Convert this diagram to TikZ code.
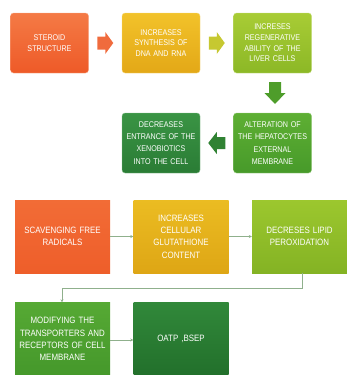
\documentclass[tikz,border=0pt]{standalone}
\usepackage{fontspec}
\setmainfont{Liberation Sans}[FakeStretch=0.86]
\usetikzlibrary{calc,arrows.meta}
\definecolor{orT}{HTML}{F47A45}\definecolor{orB}{HTML}{EE5A28}
\definecolor{goT}{HTML}{F2C22A}\definecolor{goB}{HTML}{E3A817}
\definecolor{liT}{HTML}{A8CC35}\definecolor{liB}{HTML}{8CB826}
\definecolor{grT}{HTML}{5EAF33}\definecolor{grB}{HTML}{479A2A}
\definecolor{dgT}{HTML}{3A9444}\definecolor{dgB}{HTML}{2A7C35}
\definecolor{or2T}{HTML}{F26C36}\definecolor{or2B}{HTML}{EE5E2A}
\definecolor{go2T}{HTML}{EBBC22}\definecolor{go2B}{HTML}{DEA615}
\definecolor{li2T}{HTML}{9CC72E}\definecolor{li2B}{HTML}{84B324}
\definecolor{gr2T}{HTML}{56A934}\definecolor{gr2B}{HTML}{45982B}
\definecolor{dg2T}{HTML}{31883A}\definecolor{dg2B}{HTML}{22702B}
\definecolor{conn}{HTML}{8FB08C}
\begin{document}
\begin{tikzpicture}[x=1pt,y=-1pt,
  topbox/.style={rectangle,rounded corners=3pt,minimum width=78pt,minimum height=60pt,
    text width=74pt,align=center,text=white,font=\fontsize{8.3}{10.6}\selectfont,inner sep=0pt},
  lowbox/.style={rectangle,minimum width=95pt,minimum height=73pt,
    text width=90pt,align=center,text=white,font=\fontsize{9.2}{12.4}\selectfont,inner sep=0pt},
  thin/.style={conn,line width=0.7pt,-{Stealth[length=3pt,width=3pt]}}]
\useasboundingbox (0,0) rectangle (347,375);
% top row
\node[topbox,top color=orT,bottom color=orB,draw=orT!60!white] (b1) at (49.5,43) {STEROID\\STRUCTURE\\[2pt]};
\node[topbox,top color=goT,bottom color=goB,draw=goT!60!white] (b2) at (161,43) {INCREASES\\SYNTHESIS OF\\DNA AND RNA\\[2pt]};
\node[topbox,top color=liT,bottom color=liB,draw=liT!60!white] (b3) at (272.5,43) {INCRESES\\REGENERATIVE\\ABILITY OF THE\\LIVER CELLS\\[4pt]};
% second row
\node[topbox,top color=grT,bottom color=grB,draw=grT!60!white,font=\fontsize{8.3}{12.2}\selectfont] (b4) at (272.5,143) {ALTERATION OF\\THE HEPATOCYTES\\EXTERNAL\\MEMBRANE};
\node[topbox,top color=dgT,bottom color=dgB,draw=dgT!60!white,font=\fontsize{8.3}{12.2}\selectfont] (b5) at (161,143) {DECREASES\\ENTRANCE OF THE\\XENOBIOTICS\\INTO THE CELL};
% block arrows
\coordinate (a1) at ($(b1.east)!0.5!(b2.west)$);
\fill[orB!90!white,shift={(a1)}] (-8,-6.5) -- (0,-6.5) -- (0,-11) -- (8,0) -- (0,11) -- (0,6.5) -- (-8,6.5) -- cycle;
\coordinate (a2) at ($(b2.east)!0.5!(b3.west)$);
\fill[liT!60!goT,shift={(a2)}] (-8,-6.5) -- (0,-6.5) -- (0,-11) -- (8,0) -- (0,11) -- (0,6.5) -- (-8,6.5) -- cycle;
\coordinate (a3) at ($(b3.south)!0.5!(b4.north)+(2.5,0)$);
\fill[grB!90!liB,shift={(a3)}] (-6,-11) -- (6,-11) -- (6,0) -- (10.5,0) -- (0,11) -- (-10.5,0) -- (-6,0) -- cycle;
\coordinate (a4) at ($(b5.east)!0.5!(b4.west)$);
\fill[dgB!80!grB,shift={(a4)}] (8.5,-6) -- (0,-6) -- (0,-11) -- (-8.5,0) -- (0,11) -- (0,6) -- (8.5,6) -- cycle;
% third row
\node[lowbox,top color=or2T,bottom color=or2B] (c1) at (62.5,236.5) {SCAVENGING FREE\\RADICALS};
\node[lowbox,top color=go2T,bottom color=go2B] (c2) at (181,236.5) {INCREASES\\CELLULAR\\GLUTATHIONE\\CONTENT};
\node[lowbox,top color=li2T,bottom color=li2B] (c3) at (299.5,236.5) {DECRESES LIPID\\PEROXIDATION\\[6pt]};
% fourth row
\node[lowbox,top color=gr2T,bottom color=gr2B] (d1) at (62.5,339) {MODIFYING THE\\TRANSPORTERS AND\\RECEPTORS OF CELL\\MEMBRANE\\[12pt]};
\node[lowbox,top color=dg2T,bottom color=dg2B] (d2) at (181,339) {OATP ,BSEP\\[28pt]};
% thin connectors
\draw[thin] (c1) -- (c2);
\draw[thin] (c2) -- (c3);
\draw[thin] (c3.south -| 302,0) -- ++(0,15) -| (d1.north -| 62,0);
\draw[thin] (d1.east |- 0,340) -- (d2.west |- 0,340);
\end{tikzpicture}
\end{document}
